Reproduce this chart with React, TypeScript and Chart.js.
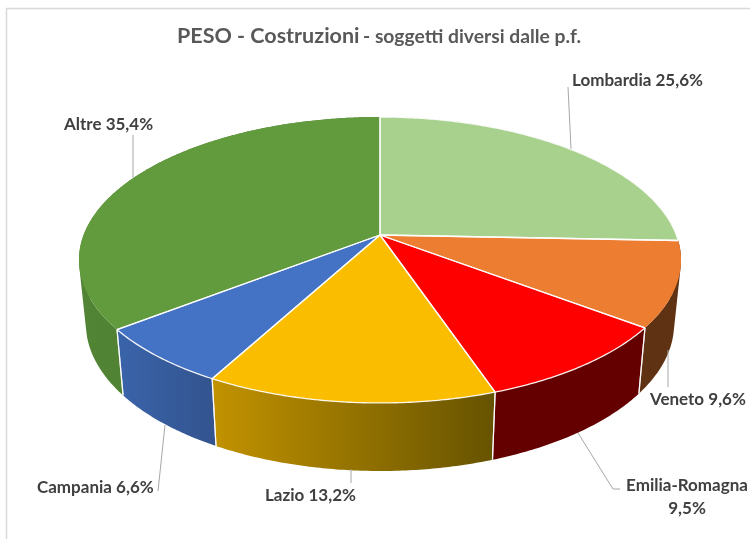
import React, { useEffect, useRef } from "react";
import { Chart, registerables } from "chart.js";

Chart.register(...registerables);

const regions = ["Lombardia", "Veneto", "Emilia-Romagna", "Lazio", "Campania", "Altre"];
const shares = [25.6, 9.6, 9.5, 13.2, 6.6, 35.4];
const topColors = ["#A9D18E", "#ED7D31", "#FF0000", "#FBBD00", "#4472C4", "#629A3E"];
const wallFrom = ["#6F8F59", "#5F3214", "#640000", "#C29200", "#3A64AA", "#528435"];
const wallTo = ["#6F8F59", "#5F3214", "#640000", "#665300", "#33548F", "#4C7A30"];
const rimLine = [true, false, true, true, true, false];

const titleMain = "PESO - Costruzioni";
const titleSub = "- soggetti diversi dalle p.f.";

const labelLines = [
  { lines: ["Lombardia 25,6%"], x: 572, y: 86, align: "left" },
  { lines: ["Veneto 9,6%"], x: 650, y: 405, align: "left" },
  { lines: ["Emilia-Romagna", "9,5%"], x: 687, y: 491, align: "center" },
  { lines: ["Lazio 13,2%"], x: 265, y: 501, align: "left" },
  { lines: ["Campania 6,6%"], x: 37, y: 493, align: "left" },
  { lines: ["Altre 35,4%"], x: 64, y: 130, align: "left" },
];
const leaders = [
  [[568, 87], [571, 149]],
  [[668, 350], [668, 387]],
  [[578, 433], [613, 489], [620, 489]],
  [[351, 469], [351, 483]],
  [[165, 425], [158, 491]],
  [[133, 135], [133, 178]],
];

// Perspective projection of the disc: matches the tilted 3D pie
const view = { cx: 380, cy: 235, b: 296.4, a: 138.6, p: 0.1748, wallScale: 0.977, wallSlope: 1.03, wallShift: 63 };

type P = { x: number; y: number };

function topPoint(angle: number): P {
  const u = Math.cos(angle);
  const v = Math.sin(angle);
  const d = 1 - view.p * v;
  return { x: view.cx + (view.b * u) / d, y: view.cy + (view.a * v) / d };
}
function lowPoint(angle: number): P {
  const t = topPoint(angle);
  return {
    x: view.cx + (t.x - view.cx) * view.wallScale,
    y: view.cy + view.wallShift + (t.y - view.cy) * view.wallSlope,
  };
}
function sweep(start: number, end: number) {
  const n = Math.max(2, Math.ceil((end - start) / 0.01));
  const out: number[] = [];
  for (let i = 0; i <= n; i++) out.push(start + ((end - start) * i) / n);
  return out;
}
function signedArea(q: P[]) {
  let s = 0;
  q.forEach((a, i) => {
    const b = q[(i + 1) % q.length];
    s += a.x * b.y - b.x * a.y;
  });
  return s;
}

const pie3d = {
  id: "pie3d",
  beforeDatasetsDraw(chart: any) {
    const ctx = chart.ctx;
    const arcs = chart.getDatasetMeta(0).data;
    ctx.save();
    ctx.lineJoin = "round";
    // walls: the union of small same-winding quads gives the swept side surface
    arcs.forEach((arc: any, i: number) => {
      const angles = sweep(arc.startAngle, arc.endAngle);
      const tops = angles.map(topPoint);
      const lows = angles.map(lowPoint);
      const xs = tops.map((q) => q.x);
      const g = ctx.createLinearGradient(Math.min(...xs), 0, Math.max(...xs), 0);
      g.addColorStop(0, wallFrom[i]);
      g.addColorStop(1, wallTo[i]);
      ctx.beginPath();
      for (let k = 0; k < angles.length - 1; k++) {
        let quad = [tops[k], tops[k + 1], lows[k + 1], lows[k]];
        if (signedArea(quad) < 0) quad = quad.reverse();
        quad.forEach((q, n) => (n ? ctx.lineTo(q.x, q.y) : ctx.moveTo(q.x, q.y)));
        ctx.closePath();
      }
      ctx.fillStyle = g;
      ctx.fill("nonzero");
    });
    // white seams between the wall pieces on the front of the pie only
    ctx.strokeStyle = "rgba(255,255,255,0.85)";
    ctx.lineWidth = 1.2;
    arcs.forEach((arc: any) => {
      [arc.startAngle, arc.endAngle].forEach((a: number) => {
        if (Math.sin(a) < 0.2) return;
        const t = topPoint(a);
        const l = lowPoint(a);
        ctx.beginPath();
        ctx.moveTo(t.x, t.y);
        ctx.lineTo(l.x, l.y);
        ctx.stroke();
      });
    });
    // top faces, coloured from the elements' resolved options
    arcs.forEach((arc: any) => {
      const rim = sweep(arc.startAngle, arc.endAngle).map(topPoint);
      ctx.beginPath();
      ctx.moveTo(view.cx, view.cy);
      rim.forEach((q) => ctx.lineTo(q.x, q.y));
      ctx.closePath();
      ctx.fillStyle = arc.options.backgroundColor;
      ctx.fill();
    });
    ctx.strokeStyle = "rgba(255,255,255,0.9)";
    ctx.lineWidth = 1.3;
    arcs.forEach((arc: any, i: number) => {
      const rim = sweep(arc.startAngle, arc.endAngle).map(topPoint);
      ctx.beginPath();
      ctx.moveTo(rim[0].x, rim[0].y);
      ctx.lineTo(view.cx, view.cy);
      ctx.lineTo(rim[rim.length - 1].x, rim[rim.length - 1].y);
      ctx.stroke();
      if (rimLine[i]) {
        ctx.beginPath();
        rim.forEach((q, k) => (k ? ctx.lineTo(q.x, q.y) : ctx.moveTo(q.x, q.y)));
        ctx.stroke();
      }
    });
    ctx.restore();
    return false;
  },
  afterDraw(chart: any) {
    const ctx = chart.ctx;
    ctx.save();
    // frame
    ctx.strokeStyle = "#D9D9D9";
    ctx.lineWidth = 1.5;
    ctx.strokeRect(6.5, 8.5, 800, 600);
    // leaders
    ctx.strokeStyle = "#A6A6A6";
    ctx.lineWidth = 1;
    leaders.forEach((pts) => {
      ctx.beginPath();
      pts.forEach((q, k) => (k ? ctx.lineTo(q[0], q[1]) : ctx.moveTo(q[0], q[1])));
      ctx.stroke();
    });
    // title
    ctx.textBaseline = "alphabetic";
    ctx.textAlign = "left";
    ctx.fillStyle = "#595959";
    ctx.font = "bold 21.5px Lato";
    ctx.fillText(titleMain, 177, 43);
    ctx.font = "bold 19.3px Lato";
    ctx.fillText(titleSub, 363, 43);
    // labels
    ctx.fillStyle = "#404040";
    ctx.font = "bold 17px Lato";
    labelLines.forEach((l) => {
      ctx.textAlign = l.align;
      l.lines.forEach((t, k) => ctx.fillText(t, l.x, l.y + k * 23));
    });
    ctx.restore();
  },
};

export default function App() {
  const ref = useRef<HTMLCanvasElement | null>(null);
  useEffect(() => {
    const chart = new Chart(ref.current!, {
      type: "pie",
      data: {
        labels: regions,
        datasets: [{ data: shares, backgroundColor: topColors, borderWidth: 0 }],
      },
      options: {
        responsive: false,
        animation: false,
        plugins: { legend: { display: false }, tooltip: { enabled: false }, title: { display: false } },
      },
      plugins: [pie3d],
    } as any);
    return () => chart.destroy();
  }, []);
  return (
    <canvas
      ref={ref}
      width={750}
      height={539}
      style={{ position: "absolute", left: 0, top: 0, width: 750, height: 539, background: "#fff" }}
    />
  );
}
